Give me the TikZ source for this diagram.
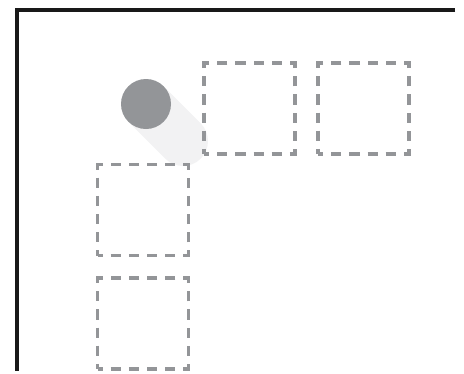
\documentclass[tikz,border=0pt]{standalone}
\usetikzlibrary{positioning}
\definecolor{ballgray}{HTML}{939598}
\definecolor{trailgray}{HTML}{F2F2F3}
\tikzset{
  slot/.style={draw=ballgray,line width=3.2pt,dash pattern=on 10.2pt off 8pt,dash phase=5.1pt,minimum size=91pt,inner sep=0pt},
  ball/.style={circle,fill=ballgray,minimum size=50pt,inner sep=0pt},
  trail/.style={trailgray,line width=50pt,line cap=round}
}
\begin{document}
\begin{tikzpicture}[x=1pt,y=-1pt]
  % Coordinates are pixels of the 464x373 frame, y pointing down.
  \useasboundingbox (0,0) rectangle (464,373);
  \coordinate (corner) at (17,10);
  \coordinate (topend) at (455,10);
  \coordinate (leftend) at (17,371);
  \draw[line width=4pt,black!90] (topend) -- (corner) -- (leftend);
  \coordinate (ballstart) at (146,104);
  \coordinate (ballend) at (183,141);
  \draw[trail] (ballstart) -- (ballend);
  \node[slot] (slotA) at (249.5,108.5) {};
  \node[slot,right=19.8pt of slotA] (slotB) {};
  \node[slot] (slotC) at (143,210) {};
  \node[slot,below=19.3pt of slotC] (slotD) {};
  \node[ball] (ballnow) at (ballstart) {};
\end{tikzpicture}
\end{document}
